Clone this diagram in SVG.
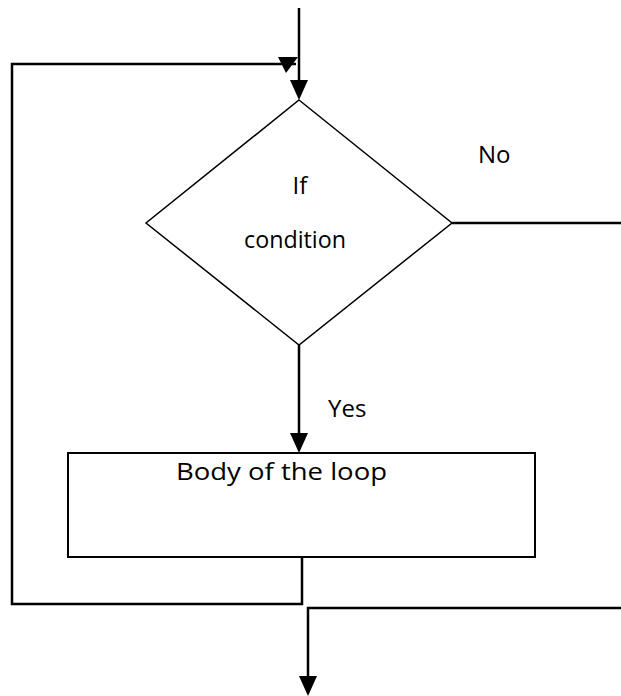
<svg xmlns="http://www.w3.org/2000/svg" width="621" height="696" viewBox="0 0 621 696">
  <style>
    .conn { fill: none; stroke: #000; stroke-width: 2.5; }
    .shape { fill: #fff; stroke: #000; }
    .lbl { font-family: "Open Sans", "Noto Sans", "Liberation Sans", sans-serif; font-size: 24px; fill: #000; }
  </style>
  <defs>
    <marker id="arrow" viewBox="0 0 20 18" markerWidth="20" markerHeight="18" refX="14" refY="9" orient="auto" markerUnits="userSpaceOnUse">
      <path d="M0,0 L20,9 L0,18 Z" fill="#000"/>
    </marker>
  </defs>
  <rect width="621" height="696" fill="#fff"/>

  <g id="connectors">
    <path class="conn" d="M299,8 V94" marker-end="url(#arrow)"/>
    <path class="conn" d="M302,557 V604 H12 V64 H296"/>
    <polygon points="278,57 298,57 286,73" fill="#000"/>
    <path class="conn" d="M452,223 H621"/>
    <path class="conn" d="M299,345 V447" marker-end="url(#arrow)"/>
    <path class="conn" d="M621,608 H308 V690" marker-end="url(#arrow)"/>
  </g>

  <g id="decision">
    <polygon class="shape" stroke-width="1.5" points="299,100 452,223 299,345 146,223"/>
    <text class="lbl" x="300" y="194" text-anchor="middle">If</text>
    <text class="lbl" x="244" y="248" textLength="102" lengthAdjust="spacingAndGlyphs">condition</text>
  </g>

  <g id="body">
    <rect class="shape" stroke-width="2" x="68" y="453" width="467" height="104"/>
    <text class="lbl" x="176" y="480" textLength="211" lengthAdjust="spacingAndGlyphs">Body of the loop</text>
  </g>

  <g id="labels">
    <text class="lbl" x="478" y="163">No</text>
    <text class="lbl" x="328" y="417">Yes</text>
  </g>
</svg>
